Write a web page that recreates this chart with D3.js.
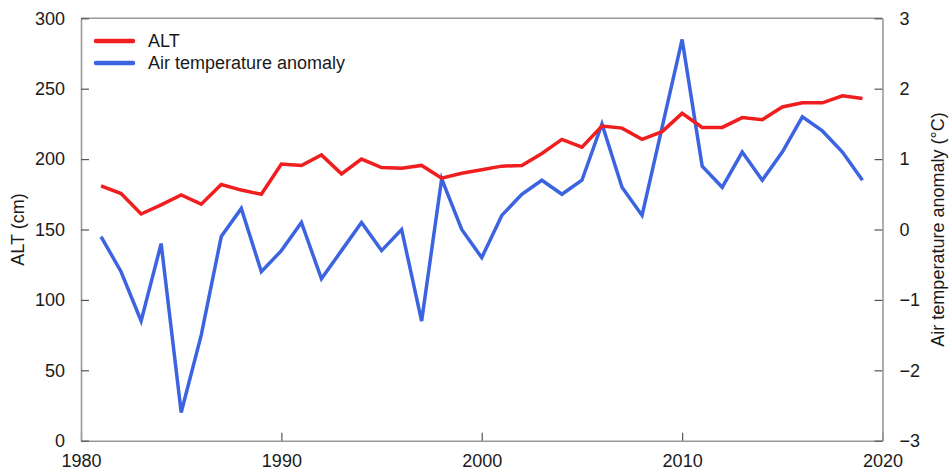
<!DOCTYPE html>
<html>
<head>
<meta charset="utf-8">
<script src="https://cdn.jsdelivr.net/npm/d3@7/dist/d3.min.js"></script>
<style>
  html, body { margin: 0; padding: 0; background: #fff; }
  svg { display: block; font-family: "Liberation Sans", Arial, Helvetica, sans-serif; }
</style>
</head>
<body>
<svg id="chart" width="949" height="470"></svg>
<script>
// Years of observation
const years = [1981, 1982, 1983, 1984, 1985, 1986, 1987, 1988, 1989, 1990,
               1991, 1992, 1993, 1994, 1995, 1996, 1997, 1998, 1999, 2000,
               2001, 2002, 2003, 2004, 2005, 2006, 2007, 2008, 2009, 2010,
               2011, 2012, 2013, 2014, 2015, 2016, 2017, 2018, 2019];

// Active layer thickness (cm)
const altValues = [181, 175.5, 161, 167.5, 174.5, 168, 182, 178, 175, 196.5,
                   195.5, 203, 189.5, 200, 194, 193.5, 195.5, 186.5, 190, 192.5,
                   195, 195.5, 204, 214, 208.5, 223.5, 222, 214, 219.5, 232.5,
                   222.5, 222.5, 229.5, 228, 237, 240, 240, 245, 243];

// Air temperature anomaly (°C)
const tempValues = [-0.1, -0.6, -1.3, -0.2, -2.6, -1.5, -0.1, 0.3, -0.6, -0.3,
                    0.1, -0.7, -0.3, 0.1, -0.3, 0.0, -1.3, 0.72, 0.0, -0.4,
                    0.2, 0.5, 0.7, 0.5, 0.7, 1.5, 0.6, 0.2, 1.45, 2.7,
                    0.9, 0.6, 1.1, 0.7, 1.1, 1.6, 1.4, 1.1, 0.7];

// Axis ticks
const xTicks = [1980, 1990, 2000, 2010, 2020];
const altTicks = [0, 50, 100, 150, 200, 250, 300];
const tempTicks = [-3, -2, -1, 0, 1, 2, 3];

const seriesNames = ["ALT", "Air temperature anomaly"];
const seriesColors = ["#f01e1e", "#3c64e1"];

const svg = d3.select("#chart");
const plotLeft = 81, plotRight = 882.5, plotTop = 18.3, plotBottom = 440.7;

const x = d3.scaleLinear().domain([1980, 2020]).range([plotLeft, plotRight]);
const yAlt = d3.scaleLinear().domain([0, 300]).range([plotBottom, plotTop]);
const yTemp = d3.scaleLinear().domain([-3, 3]).range([plotBottom, plotTop]);

const axisColor = "#9a9a9a";
const textColor = "#1a1a1a";
const fontSize = 18;

// Frame: top border
svg.append("line")
  .attr("x1", plotLeft).attr("x2", plotRight)
  .attr("y1", plotTop).attr("y2", plotTop)
  .attr("stroke", axisColor).attr("stroke-width", 1.6);

function styleAxis(g) {
  g.select(".domain").attr("stroke", axisColor).attr("stroke-width", 1.6);
  g.selectAll(".tick line").attr("stroke", "#555").attr("stroke-width", 1.2);
  g.selectAll(".tick text").attr("fill", textColor)
    .style("font-size", fontSize + "px");
}

// Bottom axis (ticks point inward)
svg.append("g")
  .attr("transform", `translate(0,${plotBottom})`)
  .call(d3.axisBottom(x).tickValues(xTicks).tickFormat(d3.format("d"))
        .tickSizeInner(-8).tickSizeOuter(0).tickPadding(14))
  .call(styleAxis);

// Left axis: ALT
svg.append("g")
  .attr("transform", `translate(${plotLeft},0)`)
  .call(d3.axisLeft(yAlt).tickValues(altTicks)
        .tickSizeInner(-8).tickSizeOuter(0).tickPadding(16))
  .call(styleAxis);

// Right axis: temperature anomaly
svg.append("g")
  .attr("transform", `translate(${plotRight},0)`)
  .call(d3.axisRight(yTemp).tickValues(tempTicks)
        .tickFormat(d => d < 0 ? "\u2212" + Math.abs(d) : String(d))
        .tickSizeInner(-8).tickSizeOuter(0).tickPadding(17))
  .call(styleAxis);

// Axis titles
svg.append("text")
  .attr("transform", `translate(24,${(plotTop + plotBottom) / 2}) rotate(-90)`)
  .attr("text-anchor", "middle")
  .attr("fill", textColor)
  .style("font-size", "18px")
  .text("ALT (cm)");

svg.append("text")
  .attr("transform", `translate(944,${(plotTop + plotBottom) / 2}) rotate(-90)`)
  .attr("text-anchor", "middle")
  .attr("fill", textColor)
  .style("font-size", "18px")
  .text("Air temperature anomaly (\u00B0C)");

// Lines
const altLine = d3.line()
  .x((d, i) => x(years[i]))
  .y(d => yAlt(d));
const tempLine = d3.line()
  .x((d, i) => x(years[i]))
  .y(d => yTemp(d));

svg.append("path")
  .datum(tempValues)
  .attr("d", tempLine)
  .attr("fill", "none")
  .attr("stroke", seriesColors[1])
  .attr("stroke-width", 3.5)
  .attr("stroke-linejoin", "miter");

svg.append("path")
  .datum(altValues)
  .attr("d", altLine)
  .attr("fill", "none")
  .attr("stroke", seriesColors[0])
  .attr("stroke-width", 3.5)
  .attr("stroke-linejoin", "miter");

// Legend
const legend = svg.append("g");
seriesNames.forEach((name, i) => {
  const ly = 41 + i * 22;
  legend.append("line")
    .attr("x1", 96).attr("x2", 133)
    .attr("y1", ly).attr("y2", ly)
    .attr("stroke", seriesColors[i])
    .attr("stroke-width", 4.5)
    .attr("stroke-linecap", "round");
  legend.append("text")
    .attr("x", 148).attr("y", ly)
    .attr("dy", "0.35em")
    .attr("fill", textColor)
    .style("font-size", fontSize + "px")
    .text(name);
});
</script>
</body>
</html>
